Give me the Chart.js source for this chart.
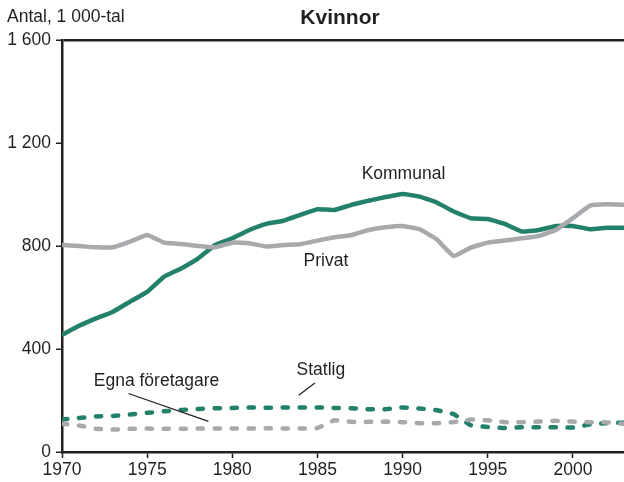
<!DOCTYPE html>
<html lang="sv">
<head>
<meta charset="utf-8">
<title>Kvinnor</title>
<script src="https://cdn.jsdelivr.net/npm/chart.js@4/dist/chart.umd.min.js"></script>
<style>
  html, body { margin: 0; padding: 0; background: #fff; }
  #wrap { position: relative; width: 624px; height: 482px; }
</style>
</head>
<body>
<div id="wrap"><canvas id="graphic"></canvas></div>
<script>
// Antal sysselsatta kvinnor per sektor, 1 000-tal
const years = [1970, 1971, 1972, 1973, 1974, 1975, 1976, 1977, 1978, 1979,
               1980, 1981, 1982, 1983, 1984, 1985, 1986, 1987, 1988, 1989,
               1990, 1991, 1992, 1993, 1994, 1995, 1996, 1997, 1998, 1999,
               2000, 2001, 2002, 2003];
const kommunal = [455, 490, 519, 545, 584, 622, 681, 713, 752, 804,
                  830, 862, 886, 898, 921, 943, 940, 960, 976, 990,
                  1002, 992, 969, 934, 908, 905, 886, 856, 862, 878,
                  878, 865, 871, 871];
const privat = [804, 800, 795, 795, 817, 843, 813, 808, 800, 795,
                813, 811, 798, 804, 807, 821, 834, 843, 862, 873,
                878, 865, 826, 761, 794, 813, 821, 830, 839, 862,
                908, 957, 962, 960];
const statlig = [126, 132, 138, 140, 146, 152, 158, 163, 167, 170,
                 171, 173, 172, 173, 173, 173, 171, 170, 166, 166,
                 173, 169, 162, 147, 104, 97, 93, 96, 96, 96,
                 95, 107, 112, 114];
const egna = [110, 103, 90, 87, 90, 91, 90, 90, 91, 91,
              91, 91, 92, 91, 91, 93, 123, 117, 117, 118,
              116, 112, 112, 116, 126, 123, 116, 116, 118, 121,
              118, 116, 115, 110];
const yTicks = [0, 400, 800, 1200, 1600];
const xTicks = [1970, 1975, 1980, 1985, 1990, 1995, 2000];

// serietexter (år, värde) och pekarlinjer
const seriesLabels = [
  { text: "Kommunal", x: 1990.05, y: 1080 },
  { text: "Privat", x: 1985.5, y: 742 },
  { text: "Statlig", x: 1985.2, y: 318 },
  { text: "Egna företagare", x: 1975.55, y: 275 }
];
const pointers = [
  { from: [1984.85, 268], to: [1983.9, 220] },
  { from: [1973.9, 227], to: [1978.6, 119] }
];

const GREEN = "#22806b";
const GREY = "#a8a9ad";
const INK = "#231f20";
const FONT = "'Liberation Sans', Arial, Helvetica, sans-serif";

function points(values) {
  return years.map((yr, i) => ({ x: yr, y: values[i] }));
}

function spaced(v) {
  return String(v).replace(/\B(?=(\d{3})+(?!\d))/g, " ");
}

const textPlugin = {
  id: "textPlugin",
  afterDraw(chart) {
    const ctx = chart.ctx;
    const sx = chart.scales.x;
    const sy = chart.scales.y;
    const area = chart.chartArea;
    ctx.save();
    ctx.fillStyle = INK;
    ctx.textBaseline = "middle";

    ctx.font = "bold 21px " + FONT;
    ctx.textAlign = "center";
    ctx.fillText("Kvinnor", (area.left + area.right) / 2 - 3, 18);

    ctx.font = "17.5px " + FONT;
    ctx.textAlign = "left";
    ctx.fillText("Antal, 1 000-tal", 7, 17);

    ctx.textAlign = "center";
    seriesLabels.forEach(l => {
      ctx.fillText(l.text, sx.getPixelForValue(l.x), sy.getPixelForValue(l.y));
    });

    ctx.strokeStyle = INK;
    ctx.lineWidth = 1.2;
    pointers.forEach(p => {
      ctx.beginPath();
      ctx.moveTo(sx.getPixelForValue(p.from[0]), sy.getPixelForValue(p.from[1]));
      ctx.lineTo(sx.getPixelForValue(p.to[0]), sy.getPixelForValue(p.to[1]));
      ctx.stroke();
    });
    ctx.restore();
  }
};

const solid = { borderWidth: 4.5, borderCapStyle: "round", borderJoinStyle: "round",
                pointRadius: 0, tension: 0.1, fill: false };
const dotted = Object.assign({}, solid, { borderDash: [5.5, 11.5], borderWidth: 4.5 });

const ctx = document.getElementById("graphic").getContext("2d");
const myChart = new Chart(ctx, {
  type: "line",
  data: {
    datasets: [
      Object.assign({ label: "Egna företagare", data: points(egna), borderColor: GREY }, dotted),
      Object.assign({ label: "Statlig", data: points(statlig), borderColor: GREEN }, dotted),
      Object.assign({ label: "Privat", data: points(privat), borderColor: GREY }, solid),
      Object.assign({ label: "Kommunal", data: points(kommunal), borderColor: GREEN }, solid)
    ]
  },
  options: {
    responsive: true,
    maintainAspectRatio: false,
    animation: false,
    layout: { padding: { top: 40, right: 0, left: 0, bottom: 0 } },
    plugins: {
      legend: { display: false },
      title: { display: false },
      tooltip: { enabled: false }
    },
    scales: {
      x: {
        type: "linear",
        min: 1970,
        max: 2003,
        afterBuildTicks(scale) {
          scale.ticks = xTicks.map(v => ({ value: v }));
        },
        afterFit(scale) { scale.height = 30; },
        border: { color: INK, width: 2.5 },
        grid: { drawOnChartArea: false, tickLength: 6, tickColor: INK, tickWidth: 1.5 },
        ticks: {
          color: INK,
          padding: 2,
          maxRotation: 0,
          font: { family: FONT, size: 17.5 },
          callback: v => String(v)
        }
      },
      y: {
        min: 0,
        max: 1600,
        afterBuildTicks(scale) {
          scale.ticks = yTicks.map(v => ({ value: v }));
        },
        afterFit(scale) { scale.width = 62; },
        border: { color: INK, width: 2.5 },
        grid: {
          drawOnChartArea: true,
          color: c => (c.tick && c.tick.value === 1600 ? INK : "rgba(0,0,0,0)"),
          lineWidth: 2.5,
          tickLength: 6,
          tickColor: INK,
          tickWidth: 1.5
        },
        ticks: {
          color: INK,
          padding: 5,
          font: { family: FONT, size: 17.5 },
          callback: v => spaced(v)
        }
      }
    }
  },
  plugins: [textPlugin]
});
</script>
</body>
</html>
